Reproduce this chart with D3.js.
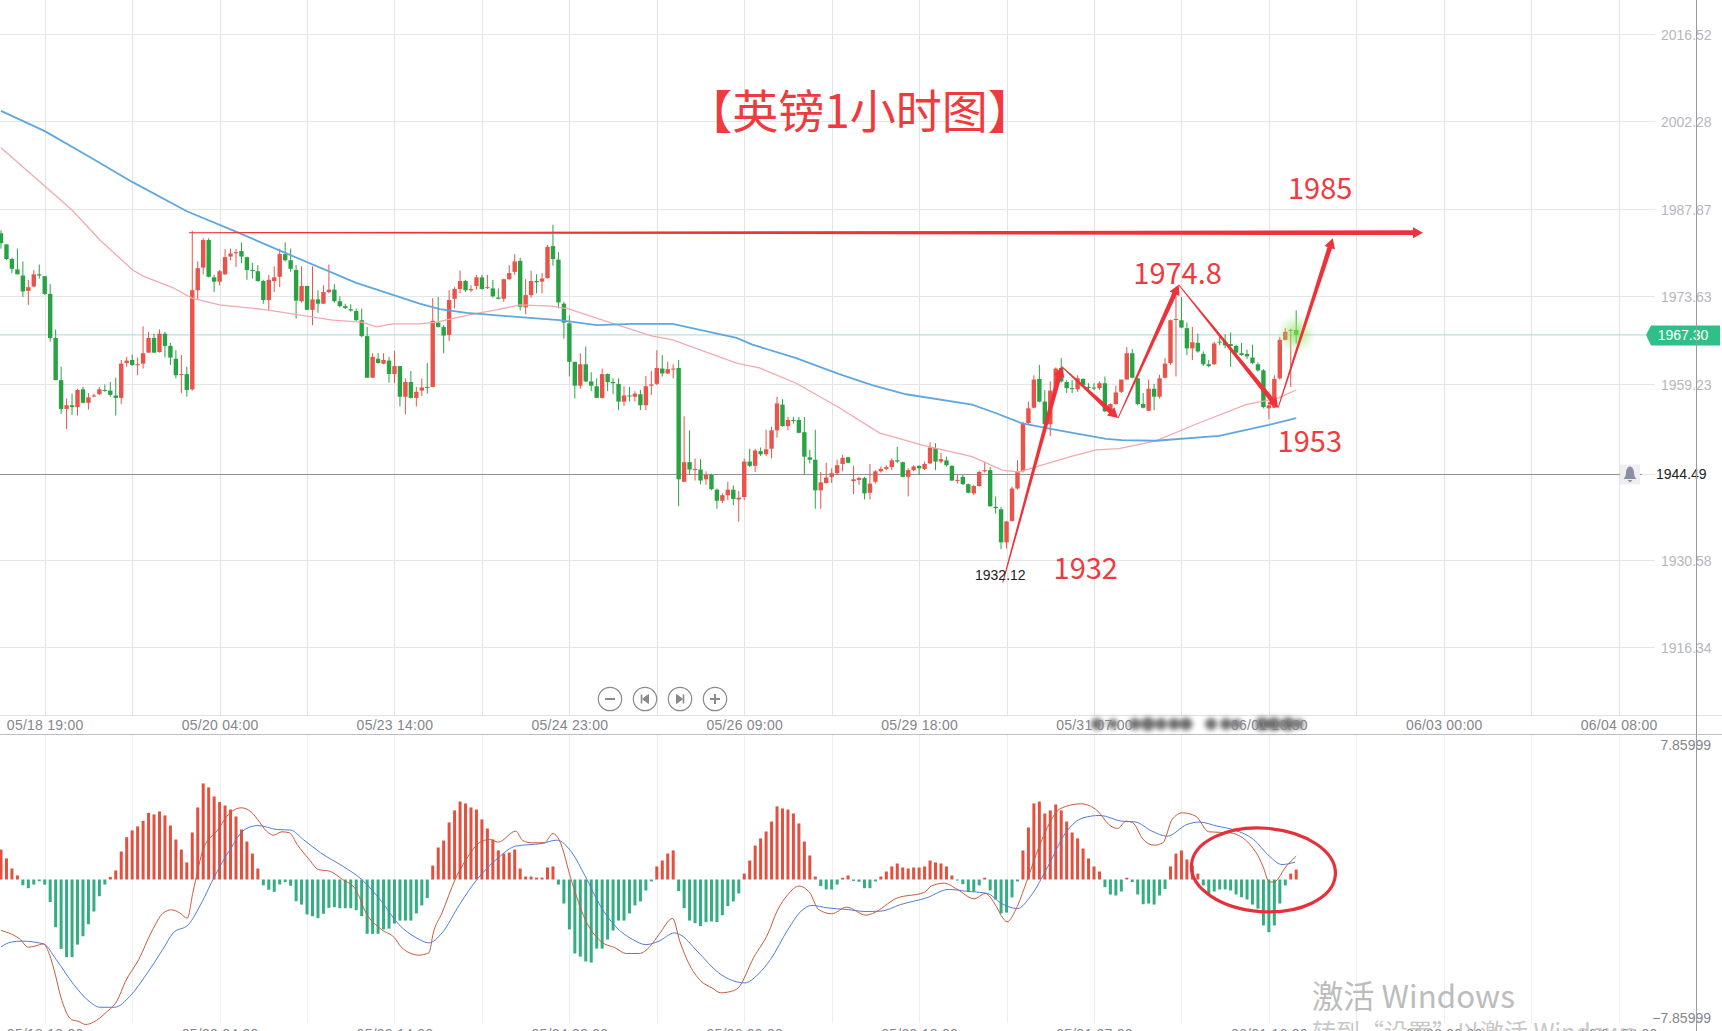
<!DOCTYPE html>
<html>
<head>
<meta charset="utf-8">
<script src="https://cdnjs.cloudflare.com/ajax/libs/d3/7.8.5/d3.min.js"></script>
<style>
body { margin: 0; background: #fff; overflow: hidden; }
svg { display: block; }
.tick line { shape-rendering: crispEdges; }
</style>
</head>
<body>
<div id="chart"></div>
<script>
// hourly candles, [open, high, low, close]
var candles = [
[1983.9,1984.4,1981.4,1982.3],[1982.1,1982.1,1979.5,1979.7],[1979.7,1979.9,1977.4,1978.1],[1978.0,1981.4,1977.2,1977.2],
[1977.0,1979.3,1973.5,1974.4],[1974.5,1976.3,1972.2,1975.1],[1975.2,1977.9,1975.1,1977.2],[1977.2,1978.8,1976.5,1977.0],
[1976.9,1976.9,1973.8,1974.0],[1974.0,1975.6,1966.2,1966.8],[1966.8,1968.2,1959.9,1959.9],[1959.9,1962.1,1954.4,1955.2],
[1955.2,1956.9,1951.9,1955.8],[1955.8,1957.7,1954.2,1955.5],[1955.5,1958.5,1954.1,1958.3],[1958.4,1958.8,1956.1,1956.2],
[1956.2,1957.8,1955.1,1957.1],[1957.3,1957.7,1957.1,1957.4],[1957.6,1958.8,1957.5,1958.4],[1958.3,1959.2,1958.0,1958.2],
[1958.2,1959.6,1957.2,1957.5],[1957.4,1960.3,1954.1,1957.0],[1957.0,1963.2,1956.0,1962.6],[1962.7,1963.7,1962.1,1963.1],
[1963.2,1964.1,1962.2,1962.4],[1962.4,1963.6,1960.7,1962.5],[1962.6,1968.7,1961.8,1964.3],[1964.4,1967.8,1964.4,1966.8],
[1966.8,1967.5,1964.4,1964.4],[1964.5,1968.2,1964.4,1967.5],[1967.5,1967.8,1963.6,1965.5],[1965.5,1966.0,1962.4,1963.6],
[1963.4,1964.8,1960.2,1960.7],[1960.8,1964.0,1957.8,1960.9],[1960.9,1962.1,1957.2,1958.3],[1958.4,1984.3,1958.2,1974.6],
[1974.6,1979.3,1973.1,1978.2],[1978.3,1983.1,1977.2,1982.8],[1982.8,1983.1,1976.7,1976.8],[1976.7,1977.1,1974.3,1976.0],
[1976.0,1977.9,1975.4,1977.7],[1977.2,1981.3,1977.1,1980.0],[1980.1,1981.4,1979.5,1980.6],[1980.7,1981.3,1978.4,1980.8],
[1981.0,1982.4,1979.0,1980.1],[1980.0,1980.1,1976.3,1977.9],[1977.9,1979.1,1976.5,1977.8],[1977.7,1978.7,1976.0,1976.1],
[1976.1,1976.3,1972.4,1973.0],[1973.0,1977.1,1971.4,1976.3],[1976.1,1978.5,1974.3,1976.7],[1976.8,1981.4,1975.1,1980.5],
[1980.5,1982.4,1979.3,1979.5],[1979.5,1981.4,1977.6,1978.1],[1977.9,1978.7,1970.0,1972.9],[1972.8,1978.5,1972.6,1975.3],
[1975.3,1975.3,1971.4,1971.4],[1971.4,1978.5,1968.9,1973.1],[1973.1,1974.6,1970.9,1972.4],[1972.4,1975.4,1972.3,1974.3],
[1974.3,1978.8,1974.1,1974.7],[1974.7,1975.6,1972.6,1972.8],[1972.8,1973.6,1971.8,1972.0],[1972.0,1972.4,1971.5,1971.7],
[1971.5,1972.3,1971.1,1971.3],[1971.2,1971.6,1969.6,1969.7],[1969.7,1971.6,1966.9,1967.1],[1967.1,1968.6,1960.3,1960.3],
[1960.3,1964.3,1960.3,1963.7],[1963.4,1964.3,1962.6,1962.7],[1962.6,1964.3,1962.5,1963.2],[1963.1,1963.7,1959.5,1960.9],
[1960.9,1964.7,1959.4,1962.2],[1962.2,1962.2,1955.6,1957.2],[1957.2,1960.2,1954.3,1959.6],[1959.6,1961.4,1956.9,1957.0],
[1957.0,1958.8,1955.6,1958.0],[1958.2,1960.2,1957.3,1958.7],[1958.8,1962.7,1957.7,1958.7],[1958.8,1973.3,1958.8,1969.6],
[1969.3,1973.5,1968.5,1968.6],[1968.6,1968.9,1964.3,1967.2],[1967.3,1974.6,1966.3,1973.0],[1973.2,1975.1,1971.6,1974.8],
[1974.8,1977.8,1974.1,1976.1],[1976.1,1976.3,1974.3,1974.6],[1974.6,1975.4,1974.3,1974.8],[1975.3,1977.1,1974.7,1976.7],
[1976.7,1977.1,1974.7,1974.8],[1975.0,1977.1,1974.8,1975.1],[1974.9,1976.3,1973.4,1973.6],[1973.4,1974.9,1973.1,1973.2],
[1973.2,1976.5,1972.7,1976.4],[1976.4,1978.7,1976.3,1977.4],[1977.6,1980.5,1977.1,1979.3],[1979.4,1979.9,1971.3,1971.9],
[1971.8,1976.4,1970.7,1973.8],[1973.8,1977.8,1973.4,1976.1],[1976.1,1977.2,1974.1,1975.9],[1976.0,1977.4,1974.1,1976.5],
[1976.6,1982.0,1976.5,1981.7],[1981.8,1985.3,1978.6,1979.7],[1979.6,1980.8,1971.6,1972.6],[1972.4,1972.7,1966.7,1969.3],
[1969.2,1970.5,1960.5,1962.9],[1962.9,1962.9,1956.9,1959.0],[1959.0,1964.3,1958.5,1962.5],[1962.5,1965.4,1959.6,1959.7],
[1959.7,1961.2,1958.1,1959.0],[1958.9,1960.2,1957.0,1957.0],[1957.0,1961.8,1956.9,1960.9],[1960.9,1961.0,1958.1,1959.6],
[1959.6,1960.2,1957.6,1959.4],[1959.3,1960.2,1955.0,1956.4],[1956.4,1958.9,1955.7,1957.4],[1957.4,1958.8,1956.4,1957.3],
[1957.2,1958.1,1956.4,1957.7],[1957.6,1958.3,1955.0,1955.8],[1955.8,1960.6,1955.0,1958.9],[1959.0,1961.4,1957.5,1959.2],
[1959.3,1964.8,1959.1,1961.9],[1961.8,1964.0,1960.5,1961.0],[1961.0,1962.9,1960.9,1961.7],[1961.7,1962.5,1960.2,1961.8],
[1961.9,1963.2,1939.3,1943.7],[1943.3,1954.0,1943.3,1946.5],[1946.5,1951.7,1944.4,1945.3],[1945.3,1947.1,1943.5,1945.4],
[1945.3,1947.0,1942.9,1943.5],[1943.7,1945.0,1942.8,1944.4],[1944.4,1944.6,1941.9,1942.1],[1942.0,1942.2,1938.9,1940.2],
[1940.2,1941.4,1939.8,1941.1],[1941.1,1943.3,1940.3,1942.0],[1942.0,1942.7,1939.5,1940.5],[1940.4,1941.8,1936.8,1940.7],
[1940.8,1947.1,1940.3,1946.6],[1946.6,1948.7,1945.7,1945.9],[1945.9,1948.7,1944.9,1948.4],[1948.3,1948.9,1947.5,1947.8],
[1947.8,1951.8,1947.5,1948.6],[1948.7,1952.3,1947.1,1951.7],[1951.7,1957.2,1950.5,1956.1],[1955.9,1956.8,1952.3,1952.4],
[1952.4,1953.9,1951.7,1953.4],[1953.4,1953.9,1952.8,1953.3],[1953.4,1953.9,1951.2,1951.3],[1951.4,1953.9,1944.5,1947.4],
[1947.3,1948.5,1946.3,1946.9],[1946.9,1951.8,1938.9,1941.9],[1941.9,1944.9,1938.9,1943.2],[1943.1,1946.4,1943.0,1944.0],
[1944.1,1945.5,1943.1,1944.7],[1944.7,1946.9,1944.4,1946.0],[1946.2,1947.7,1945.0,1947.2],[1947.3,1947.4,1946.3,1946.4],
[1943.4,1945.9,1941.3,1943.7],[1943.6,1944.1,1942.8,1943.9],[1943.9,1944.1,1940.4,1941.4],[1941.5,1946.2,1940.4,1943.0],
[1943.3,1945.2,1943.0,1945.0],[1945.0,1945.8,1944.8,1945.4],[1945.4,1946.0,1945.2,1945.7],[1945.7,1947.1,1945.2,1946.8],
[1946.8,1949.0,1946.4,1946.6],[1946.5,1946.6,1944.0,1944.1],[1944.1,1945.5,1940.9,1945.2],[1945.2,1946.0,1945.0,1945.8],
[1945.9,1946.0,1944.4,1945.5],[1945.4,1946.6,1945.2,1946.2],[1946.3,1949.7,1946.2,1948.9],[1948.8,1949.6,1945.2,1946.6],
[1946.6,1948.0,1946.3,1947.0],[1946.8,1947.4,1945.8,1946.0],[1945.9,1946.0,1943.4,1943.5],[1943.5,1944.4,1943.0,1943.6],
[1944.1,1944.4,1942.8,1942.9],[1942.9,1943.0,1941.4,1941.5],[1941.4,1942.8,1941.1,1942.6],[1942.6,1945.1,1942.5,1944.9],
[1945.0,1946.6,1944.8,1945.2],[1945.2,1945.7,1939.2,1939.3],[1939.2,1940.9,1938.1,1939.0],[1938.8,1939.2,1932.3,1933.4],
[1933.4,1936.9,1932.4,1936.8],[1936.9,1942.5,1936.8,1942.2],[1942.2,1946.8,1942.0,1945.0],[1945.0,1953.1,1944.8,1952.9],
[1952.9,1956.4,1952.6,1955.3],[1955.4,1960.7,1955.3,1960.0],[1960.1,1962.4,1956.3,1956.4],[1956.4,1958.3,1952.6,1952.7],
[1952.7,1959.7,1950.8,1958.2],[1958.3,1962.0,1958.0,1961.8],[1961.9,1963.5,1959.5,1959.7],[1959.6,1959.9,1957.8,1958.6],
[1958.6,1959.9,1957.8,1958.5],[1958.4,1960.7,1958.0,1960.2],[1960.1,1960.2,1958.8,1959.1],[1958.8,1959.4,1958.3,1958.7],
[1958.7,1959.4,1958.3,1958.6],[1958.6,1959.7,1958.3,1959.4],[1959.4,1960.5,1954.7,1954.8],[1954.8,1956.1,1954.5,1956.0],
[1956.0,1959.0,1955.9,1957.9],[1958.0,1960.0,1957.8,1960.0],[1960.0,1965.3,1960.0,1964.3],[1964.3,1965.0,1960.2,1960.3],
[1960.2,1960.3,1955.8,1956.0],[1956.0,1957.8,1955.3,1955.4],[1954.9,1960.0,1954.9,1958.5],[1958.5,1959.3,1955.0,1957.2],
[1957.2,1960.8,1956.9,1960.2],[1960.3,1963.5,1960.2,1962.6],[1962.7,1969.8,1962.4,1969.7],[1969.8,1973.5,1960.5,1969.9],
[1969.7,1973.5,1968.4,1968.5],[1968.4,1969.3,1964.0,1965.1],[1965.1,1968.6,1963.2,1966.1],[1966.0,1967.5,1964.4,1964.6],
[1964.2,1964.6,1962.2,1962.5],[1962.5,1963.2,1962.0,1962.2],[1962.5,1966.2,1962.4,1965.9],[1966.2,1967.0,1965.6,1966.1],
[1966.2,1967.4,1965.1,1965.6],[1965.8,1967.7,1962.1,1965.5],[1965.5,1965.7,1964.2,1964.4],[1964.3,1966.0,1963.9,1964.0],
[1964.2,1964.9,1963.4,1963.8],[1963.6,1965.7,1962.5,1962.7],[1962.5,1962.8,1961.3,1961.5],[1961.5,1961.7,1955.3,1955.5],
[1955.3,1956.4,1953.5,1955.8],[1955.4,1960.7,1955.3,1960.1],[1960.2,1967.0,1960.0,1966.5],[1966.5,1968.4,1966.4,1967.8],
[1968.0,1968.3,1958.8,1968.1],[1968.1,1971.3,1965.9,1967.3]
];

// moving averages read as [candle index, price]
var maBlue = [[0,2003.9],[8,2000.6],[16,1996.5],[24,1992.3],[34,1987.5],[43.2,1984.1],[52,1980.7],[65,1975.8],[76.6,1972.4],[80.3,1971.5],
[85.2,1970.9],[94.9,1970.2],[102.2,1969.7],[109,1968.9],[115.6,1969.1],[122.9,1969.1],[134.6,1966.8],[137.5,1965.7],[145.5,1963.5],[153.4,1960.9],
[159.4,1959.1],[165.6,1957.6],[177.7,1955.9],[182.1,1954.5],[186.7,1952.9],[192.3,1951.9],[202.2,1950.3],[205.1,1950.1],[211.3,1950.0],[222.9,1950.8],
[232,1952.6],[237,1953.7]];
var maPink = [[0,1997.9],[13,1987.7],[18.1,1982.8],[24.1,1977.9],[26,1976.9],[31.5,1975.0],[34.9,1973.3],[40,1972.2],[48.6,1971.4],[60.7,1969.7],
[66,1969.4],[68.7,1968.6],[71.7,1969.1],[76.6,1969.1],[79.7,1969.4],[86.3,1970.7],[90.7,1971.4],[94.9,1972.2],[100.9,1972.0],[104,1971.5],
[111.9,1969.2],[119.2,1967.1],[122.9,1966.5],[134.6,1962.7],[138.8,1961.9],[145.5,1959.4],[153.4,1955.4],[160.7,1951.3],[168.6,1949.3],[177.7,1947.4],
[183.2,1945.2],[186.3,1944.9],[190,1945.9],[196,1947.5],[200.4,1948.5],[204.6,1948.7],[211.3,1950.0],[219.2,1952.9],[227.8,1955.9],[233.8,1957.0],[237,1958.3]];

// macd histogram, one value per candle
var macdHist = [1.72,1.21,.63,.23,-.33,-.50,-.29,-.10,-.29,-1.30,-2.74,-3.99,-4.46,-4.46,-3.74,-3.26,-2.57,-1.84,-.96,-.29,
.15,.52,1.61,2.43,2.82,3.05,3.37,3.83,3.74,3.91,3.68,3.10,2.30,1.72,.98,2.70,4.14,5.52,5.29,4.77,
4.45,4.25,4.02,3.62,2.87,2.18,1.49,.63,-.33,-.59,-.71,-.29,-.15,-.36,-1.25,-1.44,-2.01,-2.11,-2.22,-1.97,
-1.63,-1.59,-1.65,-1.65,-1.65,-1.76,-2.11,-3.12,-3.12,-3.12,-2.87,-2.82,-2.53,-2.36,-2.36,-2.36,-1.95,-1.49,-1.07,.80,
1.84,2.24,3.28,3.97,4.48,4.37,4.14,4.02,3.45,2.93,2.30,1.67,1.49,1.55,1.72,.63,.17,.17,.11,.11,
.69,.75,-.29,-1.38,-2.87,-4.25,-4.43,-4.71,-4.77,-3.97,-3.97,-3.45,-2.93,-2.36,-2.36,-1.95,-1.49,-1.26,-.63,-.11,
.75,1.09,1.49,1.67,-.67,-1.65,-2.36,-2.51,-2.68,-2.45,-2.41,-2.45,-2.05,-1.53,-1.26,-.80,.34,1.09,1.95,2.36,
2.76,3.33,4.20,4.08,4.02,3.79,3.22,2.18,1.38,.17,-.38,-.57,-.57,-.29,.10,.23,-.08,-.13,-.50,-.50,
-.11,.17,.46,.75,.92,.69,.63,.69,.69,.75,1.09,.98,.92,.75,.23,-.06,-.27,-.69,-.69,-.34,
.10,-.63,-1.15,-1.95,-1.90,-1.03,-.11,1.67,2.99,4.37,4.48,3.79,3.97,4.31,3.97,3.33,2.70,2.36,1.78,1.21,
.75,.46,-.44,-.86,-.92,-.69,.10,-.15,-.86,-1.42,-1.38,-1.44,-.92,-.54,.75,1.49,1.67,1.15,.80,.34,
-.34,-.86,-.69,-.57,-.57,-.63,-.86,-1.02,-1.15,-1.44,-1.67,-2.64,-3.03,-2.64,-1.38,-.34,.34,.57];

// macd lines, [candle index, value]
var macdDif = [[0,-2.93],[1.4,-3.07],[3.4,-3.41],[5,-3.89],[6.2,-3.83],[7.8,-3.70],[8.5,-4.02],[9.7,-5.17],[10.9,-6.70],[12.9,-8.05],
[14.1,-8.14],[15.5,-8.33],[16.9,-8.20],[19.3,-7.62],[21.2,-6.99],[22.8,-5.84],[25.2,-4.60],[27.6,-2.97],[29.6,-1.95],[31.2,-1.74],
[32.7,-1.92],[34.1,-2.22],[35.1,-.77],[37.1,1.82],[39.5,2.78],[41.9,3.83],[44,4.12],[45.8,3.87],[47.4,3.26],[48.2,2.91],
[49.9,2.55],[51.4,2.74],[52.8,2.68],[54.2,2.01],[56.3,1.19],[58.1,.57],[60.1,.48],[62.5,0],[64.9,-.57],[66.8,-1.92],
[69.6,-2.87],[72,-3.35],[73.2,-3.87],[75.2,-4.27],[76.4,-4.35],[78.3,-4.21],[79.1,-3.07],[80.7,-1.92],[83.1,0],[85.5,1.34],
[87.5,2.11],[89.4,2.30],[91,2.15],[94.2,2.78],[95.4,2.26],[97,2.11],[99.4,2.11],[101,2.64],[102.1,2.30],[104.5,-.19],
[106.9,-2.30],[109.7,-3.54],[112.4,-3.93],[114.4,-4.25],[116.8,-4.25],[118.8,-3.83],[120.4,-3.16],[122.9,-2.24],[124.2,-3.54],[125.8,-4.79],
[128.1,-5.84],[130.1,-6.23],[131.7,-6.51],[133.7,-6.42],[134.9,-6.23],[137.7,-4.50],[140.4,-3.07],[142,-1.82],[144,-.86],[146,-.38],
[148,-.77],[149.6,-1.72],[152,-1.97],[154.7,-1.59],[158.3,-2.05],[159.5,-1.95],[163.8,-1.09],[169,-.73],[170.2,-.38],[172.6,-.21],
[175,-.57],[178.1,-1.11],[180.1,-.80],[182.1,-1.53],[183.3,-2.20],[184.1,-2.43],[185.7,-1.72],[187.6,-.19],[190,1.92],[193.9,4.08],
[197.6,4.35],[200.7,3.93],[202.7,3.16],[204.3,2.93],[205.9,3.35],[207.1,3.26],[209,2.30],[211,1.97],[212.6,2.11],[214.3,3.45],
[216.2,3.83],[218.6,3.64],[221,2.74],[224.9,2.68],[229.7,1.53],[230.9,.77],[232.1,-.15],[233,-.13],[235.2,.77],[237,1.34]];
var macdDea = [[0,-3.87],[1.8,-3.60],[3.8,-3.54],[7.8,-3.70],[10.1,-4.60],[13.3,-6.03],[16.1,-6.99],[18.1,-7.34],[20.8,-7.34],[23.6,-6.70],
[26.8,-5.36],[29.6,-4.02],[31.5,-3.07],[34.3,-2.59],[36.7,-1.34],[39.1,.19],[41.9,1.72],[44.6,2.87],[47,3.10],[50.6,2.87],
[53,2.84],[55.3,2.30],[58.5,1.53],[62.5,.77],[66,0],[69.6,-1.25],[72.8,-2.59],[76,-3.35],[78.3,-3.64],[80.7,-3.07],
[83.9,-1.44],[87.1,0],[91,1.25],[94.2,1.92],[99,2.07],[101.7,2.26],[104.5,1.53],[106.9,.19],[109.7,-1.53],[112.4,-2.68],
[115.6,-3.45],[118,-3.74],[120.4,-3.54],[123.2,-3.07],[124.2,-3.16],[127.4,-4.12],[131.3,-5.36],[133.7,-5.79],[136.1,-5.94],[138.5,-5.46],
[140.8,-4.60],[144,-2.87],[146.4,-1.82],[148.4,-1.49],[151.2,-1.63],[154.7,-1.72],[158.3,-1.84],[161,-1.82],[164.6,-1.44],[169.4,-1.05],
[173.4,-.57],[176.5,-.67],[180.5,-.80],[182.9,-1.34],[186,-1.67],[188.4,-.96],[191.6,.77],[194.8,2.68],[198,3.54],[201.1,3.68],
[205.1,3.35],[207.5,3.31],[210.6,2.78],[213.4,2.49],[217,3.16],[219.3,3.30],[222.5,3.07],[225.7,2.84],[229.2,2.30],[232.1,1.34],
[234.4,.86],[236.8,1.00]];

var timeLabels = ["05/18 19:00","05/20 04:00","05/23 14:00","05/24 23:00","05/26 09:00","05/29 18:00","05/31 07:00","06/01 16:00","06/03 00:00","06/04 08:00"];
var priceTicks = [2016.52,2002.28,1987.87,1973.63,1959.23,1930.58,1916.34];
var lastPrice = 1967.30;
var alertPrice = 1944.49;
var macdTicks = [7.85999,-7.85999];

// hand drawn arrows on top of the chart, [candle index, price]
var arrowLegs = [
    [[34.4,1984.0],[260.2,1984.0]],
    [[183.3,1926.8],[194.1,1962.1]],
    [[194.1,1962.1],[204.4,1953.7]],
    [[204.4,1953.7],[215.5,1975.5]],
    [[215.5,1975.5],[233.7,1955.4]],
    [[233.7,1955.4],[243.7,1983.1]]
];
var priceNotes = [
    {text:"1985", at:[235.5,1989.5]},
    {text:"1974.8", at:[207.2,1975.6]},
    {text:"1953", at:[233.6,1948.1]},
    {text:"1932", at:[192.6,1927.35]}
];

var width = 1722, height = 1031;

var svg = d3.select("#chart").append("svg")
    .attr("width", width)
    .attr("height", height)
    .style("font-family", "'Liberation Sans', Arial, sans-serif");

var x = d3.scaleLinear().domain([0, 237]).range([1, 1296.2]);
var y = d3.scaleLinear().domain([1930.58, 2016.52]).range([559.6, 33.7]);
var yMacd = d3.scaleLinear().domain([-7.85999, 7.85999]).range([1016.3, 742.7]);

var gridIdx = d3.range(8, 297, 16);
var labelIdx = d3.range(0, timeLabels.length).map(function(i) { return 8 + 32 * i; });

var defs = svg.append("defs");
var blur = defs.append("filter").attr("id", "smudge").attr("x", "-50%").attr("y", "-50%").attr("width", "200%").attr("height", "200%");
blur.append("feGaussianBlur").attr("stdDeviation", 2.4);
var glow = defs.append("radialGradient").attr("id", "glow");
glow.append("stop").attr("offset", "0%").attr("stop-color", "#7fe04a").attr("stop-opacity", 0.75);
glow.append("stop").attr("offset", "100%").attr("stop-color", "#a8e88a").attr("stop-opacity", 0);

// grid, main panel then macd panel
function cleanAxis(g, color) {
    g.select(".domain").remove();
    g.selectAll(".tick line").attr("stroke", color);
    g.selectAll(".tick text").remove();
}

svg.append("g")
    .call(d3.axisBottom(x).tickValues(gridIdx).tickSize(715))
    .call(cleanAxis, "#e2e2e8");

svg.append("g")
    .call(d3.axisRight(y).tickValues(priceTicks.concat([1944.49])).tickSize(1655))
    .call(cleanAxis, "#e6e6e6");

svg.append("g")
    .attr("transform", "translate(0,735)")
    .call(d3.axisBottom(x).tickValues(gridIdx).tickSize(288))
    .call(cleanAxis, "#eeeef0");

svg.append("line").attr("x1", 0).attr("x2", width).attr("y1", 715.5).attr("y2", 715.5).attr("stroke", "#e2e2e2");
svg.append("line").attr("x1", 0).attr("x2", width).attr("y1", 734.5).attr("y2", 734.5).attr("stroke", "#bdbdc2");

// smudged out text next to the labels, under the label text
var smudges = [[1097,724,6],[1113,724,5],[1135,724,6],[1148,724,7],[1161,724,6],[1174,724,6],[1186,724,6.5],[1211,724,6],[1226,724,6],[1237,724,5],[1262,724,7],[1274,724,7],[1288,724,7],[1299,724,5]];
svg.append("g").attr("filter", "url(#smudge)").selectAll("circle").data(smudges).enter().append("circle")
    .attr("cx", function(d) { return d[0]; })
    .attr("cy", function(d) { return d[1]; })
    .attr("r", function(d) { return d[2]; })
    .attr("fill", "#555")
    .attr("opacity", 0.85);

// time labels, the lower row is cut off by the window
function timeAxis(g) {
    g.call(d3.axisBottom(x).tickValues(labelIdx).tickSize(0).tickPadding(0)
        .tickFormat(function(d) { return timeLabels[(d - 8) / 32]; }));
    g.select(".domain").remove();
    g.selectAll("text").attr("font-size", 14).attr("font-family", "'Liberation Sans'")
        .attr("fill", "#85858a").style("letter-spacing", "0.25px");
}
svg.append("g").attr("transform", "translate(0,720)").call(timeAxis);
svg.append("g").attr("transform", "translate(0,1029)").call(timeAxis);

// last price and alert lines
svg.append("line").attr("x1", 0).attr("x2", 1646)
    .attr("y1", y(lastPrice)).attr("y2", y(lastPrice)).attr("stroke", "#a5dbd2");
svg.append("line").attr("x1", 0).attr("x2", 1642)
    .attr("y1", y(alertPrice)).attr("y2", y(alertPrice)).attr("stroke", "#8d8d92");

// candles
var candleG = svg.append("g").selectAll("g").data(candles).enter().append("g")
    .attr("fill", function(d) { return d[3] >= d[0] ? "#e8534a" : "#28a343"; })
    .attr("stroke", function(d) { return d[3] >= d[0] ? "#e8534a" : "#28a343"; });

candleG.append("line")
    .attr("x1", function(d, i) { return x(i); })
    .attr("x2", function(d, i) { return x(i); })
    .attr("y1", function(d) { return y(d[1]); })
    .attr("y2", function(d) { return y(d[2]); })
    .attr("stroke-width", 1);

candleG.append("rect")
    .attr("stroke", "none")
    .attr("x", function(d, i) { return x(i) - 2.2; })
    .attr("width", 4.4)
    .attr("y", function(d) { return y(Math.max(d[0], d[3])); })
    .attr("height", function(d) { return Math.max(1, Math.abs(y(d[0]) - y(d[3]))); });

var lineFn = function(scaleY, curve) {
    return d3.line()
        .x(function(d) { return x(d[0]); })
        .y(function(d) { return scaleY(d[1]); })
        .curve(curve);
};

svg.append("path").attr("d", lineFn(y, d3.curveLinear)(maPink)).attr("fill", "none").attr("stroke", "#f3a9ae").attr("stroke-width", 1.3);
svg.append("path").attr("d", lineFn(y, d3.curveLinear)(maBlue)).attr("fill", "none").attr("stroke", "#5ea8df").attr("stroke-width", 1.8);

// glow on the newest candle
svg.append("circle").attr("cx", x(237)).attr("cy", y(lastPrice) - 1).attr("r", 20).attr("fill", "url(#glow)");

// macd
svg.append("g").selectAll("rect").data(macdHist).enter().append("rect")
    .attr("x", function(d, i) { return x(i) - 1.5; })
    .attr("width", 3)
    .attr("y", function(d) { return d >= 0 ? yMacd(d) : yMacd(0); })
    .attr("height", function(d) { return Math.abs(yMacd(d) - yMacd(0)); })
    .attr("fill", function(d) { return d >= 0 ? "#e2503f" : "#35ad82"; });

svg.append("path").attr("d", lineFn(yMacd, d3.curveMonotoneX)(macdDea)).attr("fill", "none").attr("stroke", "#4d7edb").attr("stroke-width", 1);
svg.append("path").attr("d", lineFn(yMacd, d3.curveMonotoneX)(macdDif)).attr("fill", "none").attr("stroke", "#c85a3c").attr("stroke-width", 1);

// price axis text
var priceAxis = svg.append("g").attr("transform", "translate(1661,0)")
    .call(d3.axisRight(y).tickValues(priceTicks).tickSize(0).tickPadding(0).tickFormat(d3.format(".2f")));
priceAxis.select(".domain").remove();
priceAxis.selectAll("text").attr("font-size", 14).attr("font-family", "'Liberation Sans'").attr("fill", "#b6b6bd").attr("dy", "0.4em");

var macdAxis = svg.append("g").attr("transform", "translate(1711,2)")
    .call(d3.axisLeft(yMacd).tickValues(macdTicks).tickSize(0).tickPadding(0).tickFormat(d3.format(".5f")));
macdAxis.select(".domain").remove();
macdAxis.selectAll("text").attr("font-size", 14).attr("font-family", "'Liberation Sans'").attr("fill", "#85858c");

// last price tag
var tagY = y(lastPrice);
svg.append("path")
    .attr("d", d3.line()([[1646, tagY], [1651, tagY - 9.5], [1720, tagY - 9.5], [1720, tagY + 10.5], [1651, tagY + 10.5]]) + "Z")
    .attr("fill", "#30bf88");
svg.append("text").attr("x", 1683).attr("y", tagY + 5).attr("text-anchor", "middle")
    .attr("font-size", 14).attr("fill", "#fff").text(lastPrice.toFixed(2));

// alert marker
var alertY = y(alertPrice);
svg.append("rect").attr("x", 1620).attr("y", alertY - 10).attr("width", 20).attr("height", 20).attr("fill", "#efeff3");
svg.append("path")
    .attr("transform", "translate(1630," + alertY + ")")
    .attr("d", "M0,-8 C-1.5,-8 -4,-6 -4,-2 C-4,1 -5,3 -6.5,4.5 L6.5,4.5 C5,3 4,1 4,-2 C4,-6 1.5,-8 0,-8Z M-2.5,5.5 L2.5,5.5 L0,8Z")
    .attr("fill", "#8b8fa6");
svg.append("text").attr("x", 1656).attr("y", alertY + 5).attr("font-size", 14).attr("fill", "#222").text(alertPrice.toFixed(2));

// zoom buttons
var btn = svg.append("g").attr("fill", "none").attr("stroke", "#8a8a8a");
[610, 645, 680, 715].forEach(function(cx, i) {
    btn.append("circle").attr("cx", cx).attr("cy", 699).attr("r", 11.7).attr("stroke-width", 1.2).attr("fill", "#fff");
    if (i == 0 || i == 3) {
        btn.append("line").attr("x1", cx - 5).attr("x2", cx + 5).attr("y1", 699).attr("y2", 699).attr("stroke-width", 2);
    }
    if (i == 3) {
        btn.append("line").attr("x1", cx).attr("x2", cx).attr("y1", 694).attr("y2", 704).attr("stroke-width", 2);
    }
    if (i == 1) {
        btn.append("path").attr("d", "M" + (cx + 3.5) + ",694.5 L" + (cx - 2.5) + ",699 L" + (cx + 3.5) + ",703.5Z").attr("fill", "#8a8a8a");
        btn.append("line").attr("x1", cx - 3.5).attr("x2", cx - 3.5).attr("y1", 694.5).attr("y2", 703.5).attr("stroke-width", 1.6);
    }
    if (i == 2) {
        btn.append("path").attr("d", "M" + (cx - 3.5) + ",694.5 L" + (cx + 2.5) + ",699 L" + (cx - 3.5) + ",703.5Z").attr("fill", "#8a8a8a");
        btn.append("line").attr("x1", cx + 3.5).attr("x2", cx + 3.5).attr("y1", 694.5).attr("y2", 703.5).attr("stroke-width", 1.6);
    }
});

// tapered arrows, thin at the tail and heavy at the head
function taperedArrow(leg) {
    var x0 = x(leg[0][0]), y0 = y(leg[0][1]), x1 = x(leg[1][0]), y1 = y(leg[1][1]);
    var len = Math.sqrt((x1 - x0) * (x1 - x0) + (y1 - y0) * (y1 - y0));
    var ux = (x1 - x0) / len, uy = (y1 - y0) / len, nx = -uy, ny = ux;
    var headL = 10, headW = 5.5, tail = 0.5, neck = 2.4;
    var bx = x1 - ux * headL, by = y1 - uy * headL;
    return d3.line()([
        [x0 + nx * tail, y0 + ny * tail],
        [bx + nx * neck, by + ny * neck],
        [bx + nx * headW, by + ny * headW],
        [x1, y1],
        [bx - nx * headW, by - ny * headW],
        [bx - nx * neck, by - ny * neck],
        [x0 - nx * tail, y0 - ny * tail]
    ]) + "Z";
}

svg.append("g").selectAll("path").data(arrowLegs).enter().append("path")
    .attr("d", taperedArrow)
    .attr("fill", "#ef3239");

// red ring on the macd panel
svg.append("ellipse")
    .attr("cx", x(231)).attr("cy", yMacd(0.55))
    .attr("rx", x(13.2) - x(0)).attr("ry", yMacd(0) - yMacd(2.4))
    .attr("fill", "none").attr("stroke", "#e5313a").attr("stroke-width", 3.2)
    .attr("transform", "rotate(4 " + x(231) + " " + yMacd(0.55) + ")");

// text annotations
var cjk = "'Noto Sans CJK SC', 'Noto Sans', sans-serif";
svg.append("text").attr("x", 860).attr("y", 128).attr("text-anchor", "middle")
    .attr("font-family", cjk).attr("font-size", 46).attr("fill", "#ef3a3e").text("【英镑1小时图】");

svg.selectAll(".note").data(priceNotes).enter().append("text")
    .attr("class", "note")
    .attr("x", function(d) { return x(d.at[0]); })
    .attr("y", function(d) { return y(d.at[1]); })
    .attr("font-family", cjk).attr("font-size", 29).attr("fill", "#ef3a3e")
    .text(function(d) { return d.text; });

svg.append("text").attr("x", 975).attr("y", 580).attr("font-size", 14).attr("fill", "#222").text("1932.12");

// the screenshot frame line and windows watermark
svg.append("line").attr("x1", 1696.5).attr("x2", 1696.5).attr("y1", 0).attr("y2", height).attr("stroke", "#9a9a9e");
svg.append("text").attr("x", 1312).attr("y", 1008).attr("font-family", cjk).attr("font-size", 31.3)
    .attr("fill", "#bcbcbc").text("激活 Windows");
svg.append("text").attr("x", 1312).attr("y", 1041).attr("font-family", cjk).attr("font-size", 24)
    .attr("fill", "#c8c8c8").text("转到“设置”以激活 Windows。");
</script>
</body>
</html>
